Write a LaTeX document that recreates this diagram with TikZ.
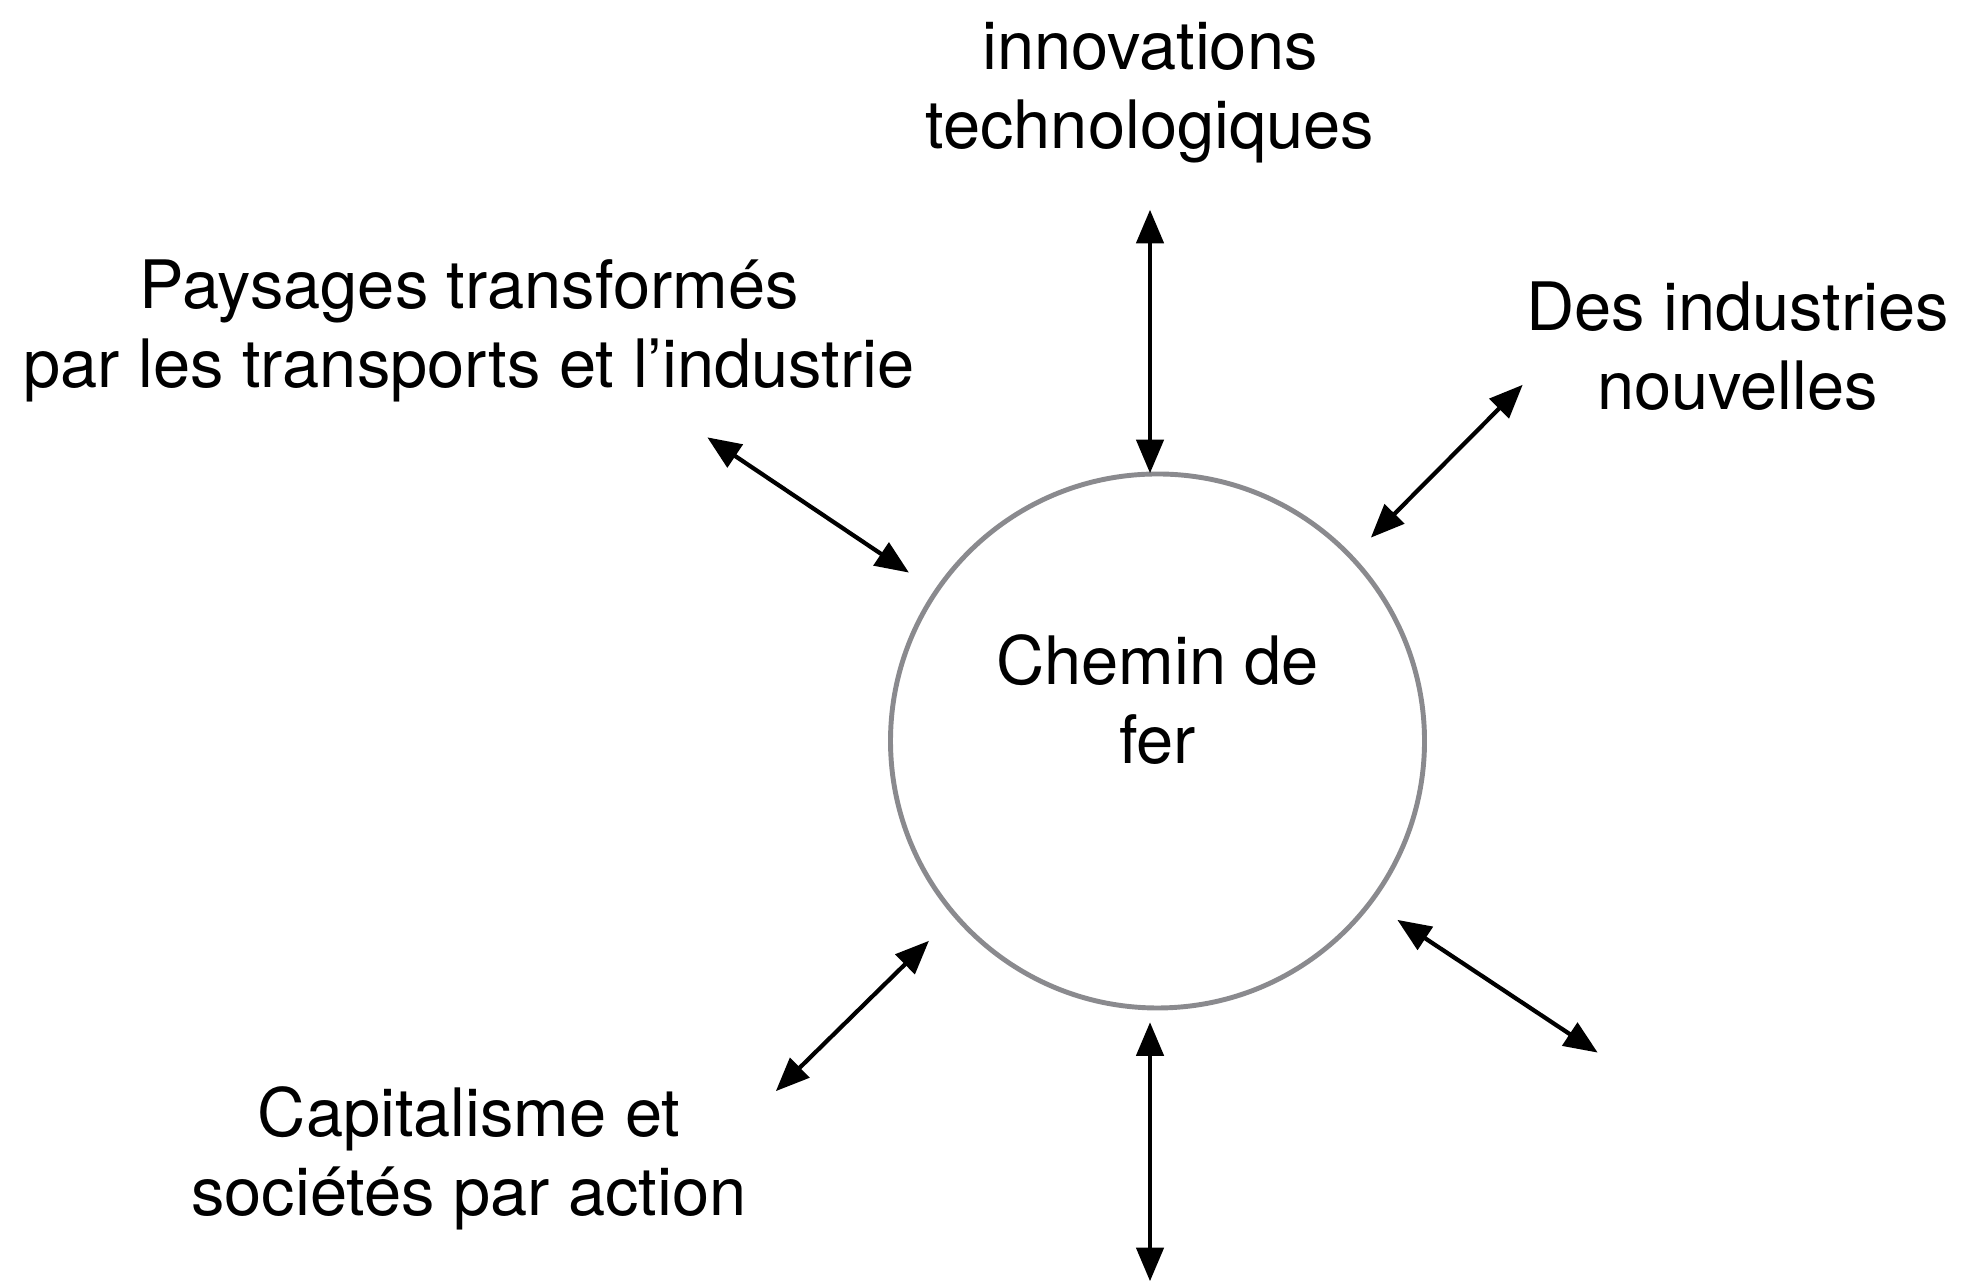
\documentclass[tikz,border=0pt]{standalone}
\usepackage{fontspec}
\setmainfont{TeX Gyre Heros}
\usetikzlibrary{arrows}
\usetikzlibrary{positioning}
\definecolor{ringgray}{RGB}{138,138,142}

\begin{document}
\begin{tikzpicture}[>=triangle 45, every node/.style={align=center, font=\fontsize{19}{22.5}\selectfont}]
    \useasboundingbox (0,0) rectangle (19.61,12.83);
    \node (fer) [circle, draw=ringgray, line width=1.4pt, minimum size=5.34cm] at (11.575,5.42) {};
    \node (ferlabel) at (11.575,5.83) {Chemin de\\fer};

    \node (innov) at (11.5,11.90) {innovations\\technologiques};
    \node (paysages) at (4.69,9.52) {Paysages transformés\\par les transports et l’industrie};
    \node (industries) at (17.375,9.37) {Des industries\\nouvelles};
    \node (capital) at (4.69,1.25) {Capitalisme et\\sociétés par action};

    \coordinate (n1) at (11.5,10.73);
    \coordinate (n2) at (11.5,8.10);
    \coordinate (nw1) at (7.075,8.455);
    \coordinate (nw2) at (9.0875,7.105);
    \coordinate (ne1) at (15.225,8.98);
    \coordinate (ne2) at (13.71,7.455);
    \coordinate (se1) at (13.975,3.63);
    \coordinate (se2) at (15.975,2.305);
    \coordinate (sw1) at (9.2875,3.42);
    \coordinate (sw2) at (7.76,1.92);
    \coordinate (s1) at (11.5,2.605);
    \coordinate (s2) at (11.5,0.02);

    \draw[<->, line width=1.2pt] (n1) -- (n2);
    \draw[<->, line width=1.2pt] (nw1) -- (nw2);
    \draw[<->, line width=1.2pt] (ne1) -- (ne2);
    \draw[<->, line width=1.2pt] (se1) -- (se2);
    \draw[<->, line width=1.2pt] (sw1) -- (sw2);
    \draw[<->, line width=1.2pt] (s1) -- (s2);
\end{tikzpicture}
\end{document}
